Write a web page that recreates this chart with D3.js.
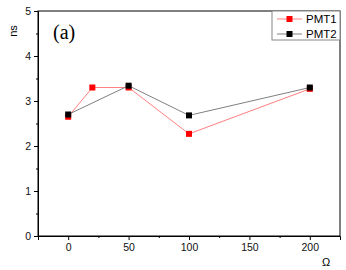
<!DOCTYPE html>
<html><head><meta charset="utf-8">
<script src="https://cdn.jsdelivr.net/npm/d3@7"></script>
<style>body{margin:0;background:#fff}svg{display:block}</style>
</head><body>
<script>
const seriesNames = ["PMT1", "PMT2"];
const pmt1X = [0, 20, 50, 100, 200];
const pmt1Y = [2.65, 3.30, 3.30, 2.27, 3.27];
const pmt2X = [0, 50, 100, 200];
const pmt2Y = [2.70, 3.34, 2.68, 3.30];
const xTicks = [0, 50, 100, 150, 200];
const yTicks = [0, 1, 2, 3, 4, 5];

const W = 346, H = 270;
const m = {l: 38, r: 6, t: 11, b: 34};
const svg = d3.select("body").append("svg").attr("width", W).attr("height", H);
const x = d3.scaleLinear().domain([-25, 225]).range([m.l, W - m.r]);
const y = d3.scaleLinear().domain([0, 5]).range([H - m.b, m.t]);
const font = "Arial, 'Liberation Sans', sans-serif";

// frame
svg.append("rect").attr("x", m.l).attr("y", m.t).attr("width", W - m.r - m.l).attr("height", H - m.b - m.t)
  .attr("fill", "none").attr("stroke", "#000").attr("stroke-width", 1);

// x axis
svg.append("g").attr("transform", `translate(0,${H - m.b})`)
  .call(d3.axisBottom(x).tickValues(xTicks).tickSize(4).tickPadding(4).tickFormat(d3.format("d")));
svg.append("g").attr("transform", `translate(0,${H - m.b})`)
  .call(d3.axisBottom(x).tickValues([25, 75, 125, 175]).tickSize(2).tickFormat(""))
  .call(g => g.select(".domain").remove());
// y axis
svg.append("g").attr("transform", `translate(${m.l},0)`)
  .call(d3.axisLeft(y).tickValues(yTicks).tickSize(4).tickPadding(3).tickFormat(d3.format("d")));
svg.append("g").attr("transform", `translate(${m.l},0)`)
  .call(d3.axisLeft(y).tickValues([0.5, 1.5, 2.5, 3.5, 4.5]).tickSize(2).tickFormat(""))
  .call(g => g.select(".domain").remove());
svg.selectAll(".tick text").attr("font-family", font).attr("font-size", 10.5).attr("fill", "#111");
svg.selectAll(".domain").attr("stroke", "#000");

// labels
svg.append("text").attr("transform", "translate(17,31) rotate(-90)").attr("text-anchor", "middle")
  .attr("font-family", font).attr("font-size", 11).text("ns");
svg.append("text").attr("x", 326).attr("y", 266).attr("text-anchor", "middle")
  .attr("font-family", font).attr("font-size", 11).text("Ω");
svg.append("text").attr("x", 53).attr("y", 39).attr("font-family", "'Liberation Serif', 'Times New Roman', serif")
  .attr("font-size", 20).text("(a)");

// series
const series = [
  {name: seriesNames[0], xs: pmt1X, ys: pmt1Y, line: "#ff8080", mark: "#ff0000"},
  {name: seriesNames[1], xs: pmt2X, ys: pmt2Y, line: "#808080", mark: "#000000"}
];
const line = d3.line().x(d => x(d[0])).y(d => y(d[1]));
series.forEach(s => {
  const pts = s.xs.map((v, i) => [v, s.ys[i]]);
  svg.append("path").datum(pts).attr("d", line).attr("fill", "none").attr("stroke", s.line).attr("stroke-width", 1);
  svg.selectAll(null).data(pts).enter().append("rect")
    .attr("x", d => x(d[0]) - 3).attr("y", d => y(d[1]) - 3).attr("width", 6).attr("height", 6).attr("fill", s.mark);
});

// legend
const lg = svg.append("g");
lg.append("rect").attr("x", 272).attr("y", m.t).attr("width", W - m.r - 272).attr("height", 29)
  .attr("fill", "#fff").attr("stroke", "#888").attr("stroke-width", 1);
series.forEach((s, i) => {
  const yy = 19 + i * 15;
  lg.append("line").attr("x1", 277).attr("x2", 302).attr("y1", yy).attr("y2", yy).attr("stroke", s.line);
  lg.append("rect").attr("x", 286.5).attr("y", yy - 3).attr("width", 6).attr("height", 6).attr("fill", s.mark);
  lg.append("text").attr("x", 306).attr("y", yy + 4).attr("font-family", font).attr("font-size", 11.5).text(s.name);
});
</script>
</body></html>
